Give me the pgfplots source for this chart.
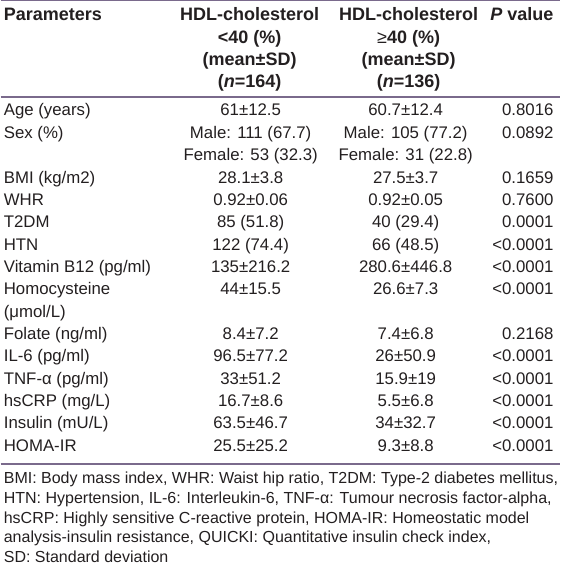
\documentclass[border=0pt]{standalone}
\usepackage{pgfplots}
\pgfplotsset{compat=1.18}
\usepackage{fontspec}
\setmainfont{Liberation Sans}
\definecolor{rulec}{RGB}{122,106,140}
\definecolor{txt}{RGB}{35,31,32}
\newcommand{\bodyf}{\fontsize{16.8bp}{19bp}\selectfont}
\newcommand{\headf}{\fontsize{18bp}{20bp}\selectfont\bfseries}
\newcommand{\footf}{\fontsize{16bp}{19bp}\selectfont}
\begin{document}
\begin{tikzpicture}[
  L/.style={anchor=base west, inner sep=0pt, text=txt},
  C/.style={anchor=base, inner sep=0pt, text=txt},
  R/.style={anchor=base east, inner sep=0pt, text=txt},
]
\begin{axis}[
  scale only axis, width=559bp, height=570bp,
  xmin=0, xmax=559, ymin=0, ymax=570, y dir=reverse,
  hide axis, clip=false,
]
\addplot[draw=none] coordinates {(0,0) (559,570)};
% rules
\addplot[rulec, line width=1.3bp] coordinates {(0,0.8) (559,0.8)};
\addplot[rulec, line width=1.3bp] coordinates {(0,97) (559,97)};
\addplot[rulec, line width=1.3bp] coordinates {(0,464) (559,464)};
% header
\node[L, font=\headf] at (axis cs:3,21) {Parameters};
\node[C, font=\headf] at (axis cs:249,21) {HDL-cholesterol};
\node[C, font=\headf] at (axis cs:249,44) {<40 (\%)};
\node[C, font=\headf] at (axis cs:249,66) {(mean±SD)};
\node[C, font=\headf] at (axis cs:249,88) {(\textit{n}=164)};
\node[C, font=\headf] at (axis cs:408,21) {HDL-cholesterol};
\node[C, font=\headf] at (axis cs:408,44) {{\mdseries ≥}40 (\%)};
\node[C, font=\headf] at (axis cs:408,66) {(mean±SD)};
\node[C, font=\headf] at (axis cs:408,88) {(\textit{n}=136)};
\node[R, font=\headf] at (axis cs:553,21) {\textit{P} value};
% body column 1
\node[L, font=\bodyf] at (axis cs:3,116) {Age (years)};
\node[L, font=\bodyf] at (axis cs:3,138.35) {Sex (\%)};
\node[L, font=\bodyf] at (axis cs:3,183.05) {BMI (kg/m2)};
\node[L, font=\bodyf] at (axis cs:3,205.4) {WHR};
\node[L, font=\bodyf] at (axis cs:3,227.75) {T2DM};
\node[L, font=\bodyf] at (axis cs:3,250.1) {HTN};
\node[L, font=\bodyf] at (axis cs:3,272.45) {Vitamin B12 (pg/ml)};
\node[L, font=\bodyf] at (axis cs:3,294.8) {Homocysteine};
\node[L, font=\bodyf] at (axis cs:3,317.15) {(μmol/L)};
\node[L, font=\bodyf] at (axis cs:3,339.5) {Folate (ng/ml)};
\node[L, font=\bodyf] at (axis cs:3,361.85) {IL-6 (pg/ml)};
\node[L, font=\bodyf] at (axis cs:3,384.2) {TNF-α (pg/ml)};
\node[L, font=\bodyf] at (axis cs:3,406.55) {hsCRP (mg/L)};
\node[L, font=\bodyf] at (axis cs:3,428.9) {Insulin (mU/L)};
\node[L, font=\bodyf] at (axis cs:3,451.25) {HOMA-IR};
% body column 2
\node[C, font=\bodyf] at (axis cs:250,116) {61±12.5};
\node[C, font=\bodyf] at (axis cs:250,138.35) {Male: 111 (67.7)};
\node[C, font=\bodyf] at (axis cs:250,160.7) {Female: 53 (32.3)};
\node[C, font=\bodyf] at (axis cs:250,183.05) {28.1±3.8};
\node[C, font=\bodyf] at (axis cs:250,205.4) {0.92±0.06};
\node[C, font=\bodyf] at (axis cs:250,227.75) {85 (51.8)};
\node[C, font=\bodyf] at (axis cs:250,250.1) {122 (74.4)};
\node[C, font=\bodyf] at (axis cs:250,272.45) {135±216.2};
\node[C, font=\bodyf] at (axis cs:250,294.8) {44±15.5};
\node[C, font=\bodyf] at (axis cs:250,339.5) {8.4±7.2};
\node[C, font=\bodyf] at (axis cs:250,361.85) {96.5±77.2};
\node[C, font=\bodyf] at (axis cs:250,384.2) {33±51.2};
\node[C, font=\bodyf] at (axis cs:250,406.55) {16.7±8.6};
\node[C, font=\bodyf] at (axis cs:250,428.9) {63.5±46.7};
\node[C, font=\bodyf] at (axis cs:250,451.25) {25.5±25.2};
% body column 3
\node[C, font=\bodyf] at (axis cs:405,116) {60.7±12.4};
\node[C, font=\bodyf] at (axis cs:405,138.35) {Male: 105 (77.2)};
\node[C, font=\bodyf] at (axis cs:405,160.7) {Female: 31 (22.8)};
\node[C, font=\bodyf] at (axis cs:405,183.05) {27.5±3.7};
\node[C, font=\bodyf] at (axis cs:405,205.4) {0.92±0.05};
\node[C, font=\bodyf] at (axis cs:405,227.75) {40 (29.4)};
\node[C, font=\bodyf] at (axis cs:405,250.1) {66 (48.5)};
\node[C, font=\bodyf] at (axis cs:405,272.45) {280.6±446.8};
\node[C, font=\bodyf] at (axis cs:405,294.8) {26.6±7.3};
\node[C, font=\bodyf] at (axis cs:405,339.5) {7.4±6.8};
\node[C, font=\bodyf] at (axis cs:405,361.85) {26±50.9};
\node[C, font=\bodyf] at (axis cs:405,384.2) {15.9±19};
\node[C, font=\bodyf] at (axis cs:405,406.55) {5.5±6.8};
\node[C, font=\bodyf] at (axis cs:405,428.9) {34±32.7};
\node[C, font=\bodyf] at (axis cs:405,451.25) {9.3±8.8};
% body column 4
\node[R, font=\bodyf] at (axis cs:553,116) {0.8016};
\node[R, font=\bodyf] at (axis cs:553,138.35) {0.0892};
\node[R, font=\bodyf] at (axis cs:553,183.05) {0.1659};
\node[R, font=\bodyf] at (axis cs:553,205.4) {0.7600};
\node[R, font=\bodyf] at (axis cs:553,227.75) {0.0001};
\node[R, font=\bodyf] at (axis cs:553,250.1) {<0.0001};
\node[R, font=\bodyf] at (axis cs:553,272.45) {<0.0001};
\node[R, font=\bodyf] at (axis cs:553,294.8) {<0.0001};
\node[R, font=\bodyf] at (axis cs:553,339.5) {0.2168};
\node[R, font=\bodyf] at (axis cs:553,361.85) {<0.0001};
\node[R, font=\bodyf] at (axis cs:553,384.2) {<0.0001};
\node[R, font=\bodyf] at (axis cs:553,406.55) {<0.0001};
\node[R, font=\bodyf] at (axis cs:553,428.9) {<0.0001};
\node[R, font=\bodyf] at (axis cs:553,451.25) {<0.0001};
% footnote
\node[L, font=\footf] at (axis cs:3,483.5) {BMI: Body mass index, WHR: Waist hip ratio, T2DM: Type-2 diabetes mellitus,};
\node[L, font=\footf] at (axis cs:3,503.3) {HTN: Hypertension, IL-6: Interleukin-6, TNF-α: Tumour necrosis factor-alpha,};
\node[L, font=\footf] at (axis cs:3,523.1) {hsCRP: Highly sensitive C-reactive protein, HOMA-IR: Homeostatic model};
\node[L, font=\footf] at (axis cs:3,542.9) {analysis-insulin resistance, QUICKI: Quantitative insulin check index,};
\node[L, font=\footf] at (axis cs:3,562.7) {SD: Standard deviation};
\end{axis}
\end{tikzpicture}
\end{document}
